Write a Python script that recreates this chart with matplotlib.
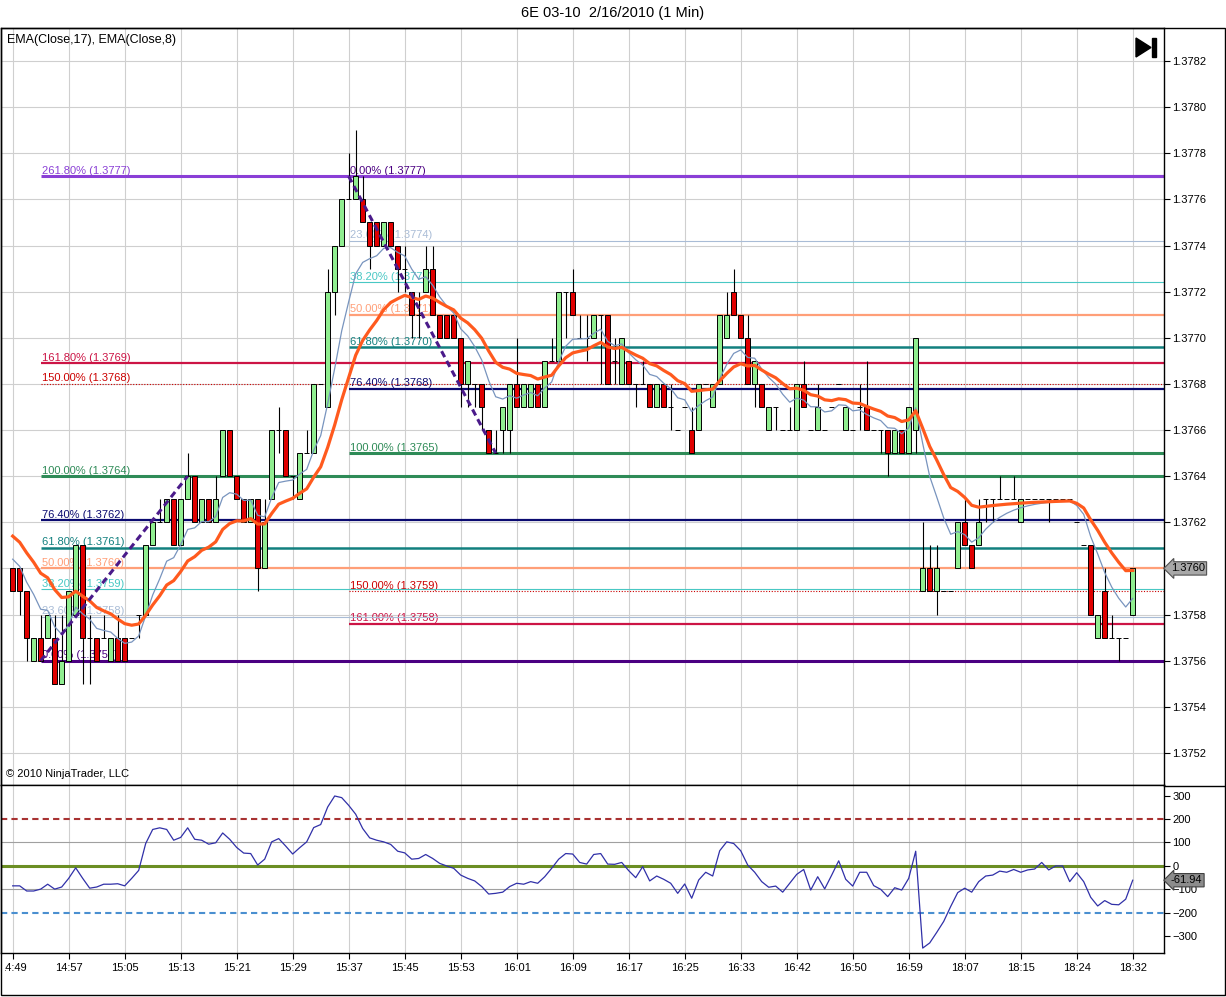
import matplotlib
matplotlib.use("Agg")
import matplotlib.pyplot as plt
from matplotlib.patches import Polygon, Rectangle
from matplotlib.lines import Line2D
from matplotlib.transforms import Bbox, TransformedBbox
import pandas as pd

plt.rcParams['font.family'] = ['Liberation Sans', 'DejaVu Sans']

W, H = 1226, 997

# 1 min bars, 6E 03-10, 16 Feb 2010
opens = [1.3760, 1.3760, 1.3759, 1.3756, 1.3757, 1.3757, 1.3757, 1.3755, 1.3756, 1.3758,
         1.3761, 1.3757, 1.3757, 1.3757, 1.3756, 1.3757, 1.3757, 1.3757, 1.3758, 1.3758,
         1.3761, 1.3762, 1.3762, 1.3763, 1.3761, 1.3763, 1.3764, 1.3762, 1.3763, 1.3762,
         1.3764, 1.3766, 1.3764, 1.3763, 1.3762, 1.3763, 1.3760, 1.3763, 1.3766, 1.3766,
         1.3764, 1.3763, 1.3765, 1.3765, 1.3768, 1.3767, 1.3772, 1.3774, 1.3776, 1.3776,
         1.3776, 1.3775, 1.3775, 1.3774, 1.3775, 1.3774, 1.3773, 1.3772, 1.3771, 1.3772,
         1.3773, 1.3771, 1.3771, 1.3771, 1.3770, 1.3768, 1.3768, 1.3768, 1.3766, 1.3765,
         1.3766, 1.3766, 1.3768, 1.3767, 1.3767, 1.3768, 1.3767, 1.3769, 1.3769, 1.3772,
         1.3772, 1.3770, 1.3770, 1.3770, 1.3771, 1.3771, 1.3769, 1.3768, 1.3769, 1.3768,
         1.3768, 1.3768, 1.3767, 1.3768, 1.3767, 1.3766, 1.3767, 1.3766, 1.3766, 1.3768,
         1.3767, 1.3768, 1.3770, 1.3772, 1.3771, 1.3770, 1.3768, 1.3768, 1.3766, 1.3767,
         1.3766, 1.3766, 1.3766, 1.3768, 1.3766, 1.3766, 1.3766, 1.3767, 1.3768, 1.3766,
         1.3766, 1.3767, 1.3767, 1.3766, 1.3766, 1.3766, 1.3765, 1.3766, 1.3765, 1.3766,
         1.3759, 1.3760, 1.3759, 1.3759, 1.3759, 1.3760, 1.3762, 1.3761, 1.3761, 1.3763,
         1.3763, 1.3763, 1.3763, 1.3763, 1.3762, 1.3763, 1.3763, 1.3763, 1.3763, 1.3763,
         1.3763, 1.3763, 1.3762, 1.3761, 1.3761, 1.3757, 1.3759, 1.3757, 1.3757, 1.3757,
         1.3758]
highs = [1.3760, 1.3760, 1.3759, 1.3757, 1.3758, 1.3758, 1.3758, 1.3758, 1.3759, 1.3761,
         1.3761, 1.3758, 1.3757, 1.3758, 1.3757, 1.3758, 1.3757, 1.3757, 1.3758, 1.3761,
         1.3762, 1.3763, 1.3763, 1.3763, 1.3763, 1.3765, 1.3764, 1.3763, 1.3763, 1.3764,
         1.3766, 1.3766, 1.3764, 1.3763, 1.3763, 1.3763, 1.3763, 1.3766, 1.3767, 1.3766,
         1.3764, 1.3765, 1.3766, 1.3768, 1.3768, 1.3773, 1.3774, 1.3776, 1.3778, 1.3779,
         1.3777, 1.3775, 1.3775, 1.3775, 1.3775, 1.3774, 1.3774, 1.3772, 1.3772, 1.3774,
         1.3774, 1.3771, 1.3771, 1.3771, 1.3770, 1.3769, 1.3768, 1.3768, 1.3766, 1.3766,
         1.3767, 1.3768, 1.3770, 1.3768, 1.3768, 1.3768, 1.3769, 1.3770, 1.3772, 1.3772,
         1.3773, 1.3771, 1.3771, 1.3771, 1.3771, 1.3771, 1.3770, 1.3770, 1.3769, 1.3768,
         1.3769, 1.3768, 1.3768, 1.3768, 1.3768, 1.3766, 1.3767, 1.3767, 1.3768, 1.3768,
         1.3768, 1.3771, 1.3772, 1.3773, 1.3771, 1.3771, 1.3769, 1.3768, 1.3767, 1.3767,
         1.3766, 1.3767, 1.3768, 1.3769, 1.3766, 1.3768, 1.3766, 1.3767, 1.3768, 1.3767,
         1.3766, 1.3768, 1.3769, 1.3766, 1.3766, 1.3766, 1.3766, 1.3766, 1.3767, 1.3770,
         1.3762, 1.3761, 1.3761, 1.3759, 1.3759, 1.3762, 1.3763, 1.3761, 1.3763, 1.3763,
         1.3763, 1.3764, 1.3763, 1.3764, 1.3763, 1.3763, 1.3763, 1.3763, 1.3763, 1.3763,
         1.3763, 1.3763, 1.3762, 1.3761, 1.3761, 1.3758, 1.3760, 1.3758, 1.3757, 1.3757,
         1.3760]
lows = [1.3759, 1.3758, 1.3756, 1.3756, 1.3756, 1.3757, 1.3755, 1.3755, 1.3756, 1.3758,
        1.3755, 1.3755, 1.3756, 1.3757, 1.3756, 1.3756, 1.3756, 1.3757, 1.3757, 1.3758,
        1.3761, 1.3762, 1.3762, 1.3761, 1.3761, 1.3763, 1.3762, 1.3762, 1.3762, 1.3762,
        1.3764, 1.3764, 1.3763, 1.3762, 1.3762, 1.3759, 1.3760, 1.3763, 1.3765, 1.3764,
        1.3763, 1.3763, 1.3765, 1.3765, 1.3768, 1.3767, 1.3771, 1.3774, 1.3776, 1.3776,
        1.3775, 1.3773, 1.3774, 1.3774, 1.3774, 1.3772, 1.3772, 1.3770, 1.3770, 1.3772,
        1.3771, 1.3770, 1.3770, 1.3770, 1.3767, 1.3767, 1.3767, 1.3766, 1.3765, 1.3765,
        1.3765, 1.3765, 1.3767, 1.3767, 1.3767, 1.3767, 1.3767, 1.3769, 1.3769, 1.3770,
        1.3771, 1.3770, 1.3769, 1.3770, 1.3768, 1.3768, 1.3768, 1.3768, 1.3768, 1.3767,
        1.3768, 1.3767, 1.3767, 1.3767, 1.3766, 1.3766, 1.3767, 1.3765, 1.3766, 1.3768,
        1.3767, 1.3768, 1.3770, 1.3771, 1.3770, 1.3768, 1.3767, 1.3767, 1.3766, 1.3766,
        1.3766, 1.3766, 1.3766, 1.3767, 1.3766, 1.3766, 1.3766, 1.3767, 1.3768, 1.3766,
        1.3766, 1.3766, 1.3766, 1.3766, 1.3765, 1.3764, 1.3765, 1.3765, 1.3765, 1.3765,
        1.3759, 1.3759, 1.3758, 1.3759, 1.3759, 1.3760, 1.3761, 1.3760, 1.3761, 1.3762,
        1.3762, 1.3763, 1.3763, 1.3763, 1.3762, 1.3763, 1.3763, 1.3763, 1.3762, 1.3763,
        1.3763, 1.3763, 1.3762, 1.3761, 1.3758, 1.3757, 1.3757, 1.3757, 1.3756, 1.3757,
        1.3758]
closes = [1.3759, 1.3759, 1.3757, 1.3757, 1.3756, 1.3758, 1.3755, 1.3756, 1.3759, 1.3761,
          1.3757, 1.3757, 1.3756, 1.3757, 1.3757, 1.3756, 1.3756, 1.3757, 1.3758, 1.3761,
          1.3762, 1.3762, 1.3763, 1.3761, 1.3763, 1.3764, 1.3762, 1.3763, 1.3762, 1.3763,
          1.3766, 1.3764, 1.3763, 1.3762, 1.3763, 1.3760, 1.3762, 1.3766, 1.3766, 1.3764,
          1.3764, 1.3765, 1.3765, 1.3768, 1.3768, 1.3772, 1.3774, 1.3776, 1.3776, 1.3777,
          1.3775, 1.3774, 1.3774, 1.3775, 1.3774, 1.3773, 1.3773, 1.3771, 1.3771, 1.3773,
          1.3771, 1.3770, 1.3770, 1.3770, 1.3768, 1.3769, 1.3768, 1.3767, 1.3765, 1.3765,
          1.3767, 1.3768, 1.3767, 1.3768, 1.3768, 1.3767, 1.3769, 1.3769, 1.3772, 1.3772,
          1.3771, 1.3770, 1.3770, 1.3771, 1.3771, 1.3768, 1.3769, 1.3770, 1.3768, 1.3768,
          1.3768, 1.3767, 1.3768, 1.3767, 1.3767, 1.3766, 1.3767, 1.3765, 1.3768, 1.3768,
          1.3768, 1.3771, 1.3771, 1.3771, 1.3770, 1.3768, 1.3769, 1.3767, 1.3767, 1.3767,
          1.3766, 1.3766, 1.3768, 1.3767, 1.3766, 1.3767, 1.3766, 1.3767, 1.3768, 1.3767,
          1.3766, 1.3767, 1.3766, 1.3766, 1.3766, 1.3765, 1.3766, 1.3765, 1.3767, 1.3770,
          1.3760, 1.3759, 1.3760, 1.3759, 1.3759, 1.3762, 1.3761, 1.3760, 1.3762, 1.3763,
          1.3763, 1.3763, 1.3763, 1.3763, 1.3763, 1.3763, 1.3763, 1.3763, 1.3763, 1.3763,
          1.3763, 1.3763, 1.3762, 1.3761, 1.3758, 1.3758, 1.3757, 1.3757, 1.3757, 1.3757,
          1.3760]

# lower panel oscillator
cci = [-86, -86, -108, -108, -100, -79, -100, -91, -54, -9,
       -54, -96, -91, -79, -79, -77, -86, -54, -20, 95,
       155, 162, 155, 109, 121, 162, 113, 109, 92, 98,
       140, 113, 78, 54, 52, 3, 28, 102, 116, 84,
       50, 77, 102, 163, 176, 251, 298, 291, 258, 220,
       159, 119, 109, 102, 91, 62, 55, 28, 31, 48,
       31, 10, -1, -11, -40, -54, -65, -89, -121, -118,
       -113, -89, -75, -79, -68, -75, -47, -11, 28, 52,
       50, 14, 7, 48, 52, 7, 6, 14, -21, -51,
       -4, -65, -44, -58, -75, -118, -78, -139, -61, -28,
       -44, 64, 102, 95, 64, 3, -28, -68, -92, -87,
       -113, -75, -37, -16, -104, -47, -99, -40, 21, -58,
       -87, -28, -28, -85, -101, -132, -94, -104, -54, 62,
       -352, -330, -285, -238, -174, -115, -96, -113, -68, -44,
       -40, -23, -28, -16, -28, -18, -14, 14, -18, -1,
       -1, -68, -30, -68, -135, -172, -149, -165, -167, -143,
       -61.94]

time_labels = ["14:49", "14:57", "15:05", "15:13", "15:21", "15:29", "15:37", "15:45",
               "15:53", "16:01", "16:09", "16:17", "16:25", "16:33", "16:42", "16:50",
               "16:59", "18:07", "18:15", "18:24", "18:32"]
price_ticks = [1.3752, 1.3754, 1.3756, 1.3758, 1.3760, 1.3762, 1.3764, 1.3766,
               1.3768, 1.3770, 1.3772, 1.3774, 1.3776, 1.3778, 1.3780, 1.3782]
cci_ticks = [-300, -200, -100, 0, 100, 200, 300]

# EMA values before the first visible bar
ema17_seed = 1.37617
ema8_seed = 1.37608

# fibonacci drawings: (start bar, end bar) anchors and levels
left_anchor = [(4, 1.3756), (25, 1.3764)]
left_names = ["0.00%", "23.60%", "38.20%", "50.00%", "61.80%", "76.40%",
              "100.00%", "150.00%", "161.80%", "261.80%"]
left_prices = [1.3756, 1.37579, 1.37591, 1.3760, 1.37609, 1.37621,
               1.3764, 1.3768, 1.37689, 1.3777]
upper_anchor = [(48, 1.3777), (69, 1.3765)]
upper_names = ["0.00%", "23.60%", "38.20%", "50.00%", "61.80%", "76.40%",
               "100.00%", "150.00%", "161.00%"]
upper_prices = [1.3777, 1.37742, 1.37724, 1.3771, 1.37696, 1.37678,
                1.3765, 1.3759, 1.37576]

FIB_STYLE = {
    "0.00%": ("#4B0082", 2.2, "solid"),
    "23.60%": ("#A9BCD6", 0.8, "solid"),
    "38.20%": ("#48C8C4", 0.8, "solid"),
    "50.00%": ("#FF9F78", 1.6, "solid"),
    "61.80%": ("#12807F", 1.8, "solid"),
    "76.40%": ("#0A0A70", 1.6, "solid"),
    "100.00%": ("#2E8B57", 2.2, "solid"),
    "150.00%": ("#CC0000", 0.8, (0, (1, 1.5))),
    "161.80%": ("#CC1445", 1.6, "solid"),
    "161.00%": ("#CC1445", 1.6, "solid"),
    "261.80%": ("#8A3FD6", 2.2, "solid"),
}


def fx(px):
    return px / W


def fy(py):
    return 1 - py / H


def drawFib(ax, anchor, names, prices):
    start = anchor[0][0]
    for name, price in zip(names, prices):
        color, lw, ls = FIB_STYLE[name]
        ax.hlines(price, start, 200, colors=color, linewidth=lw, linestyles=ls, zorder=1.6)
        ax.annotate(f"{name} ({price:.4f})", xy=(start, price), xytext=(0.6, 0.3),
                    textcoords="offset points", fontsize=8, color=color,
                    va="bottom", ha="left", zorder=1.5)
    ax.plot([anchor[0][0], anchor[1][0]], [anchor[0][1], anchor[1][1]],
            color="#4A1A8A", lw=2.2, ls=(0, (2.2, 1.4)), zorder=6)


fig = plt.figure(figsize=(W / 100, H / 100), dpi=100)
ax = fig.add_axes([fx(1), fy(785), fx(1164) - fx(1), fy(28) - fy(785)])
ax2 = fig.add_axes([fx(1), fy(953), fx(1164) - fx(1), fy(785) - fy(953)], sharex=ax)

xs = list(range(len(closes)))

# fib levels under the candles; the left one goes last so its 261.8% line covers 0.00%
drawFib(ax, upper_anchor, upper_names, upper_prices)
drawFib(ax, left_anchor, left_names, left_prices)

# candles
bottoms = [min(o, c) for o, c in zip(opens, closes)]
heights = [abs(c - o) for o, c in zip(opens, closes)]
colors = []
for o, c in zip(opens, closes):
    if c > o:
        colors.append("#90EE90")
    elif c < o:
        colors.append("#E00000")
    else:
        colors.append("black")
ax.vlines(xs, lows, highs, color="black", lw=0.8, zorder=2.5)
ax.bar(xs, heights, bottom=bottoms, width=0.68, color=colors, edgecolor="black",
       linewidth=0.7, zorder=3)

ema17 = pd.Series([ema17_seed] + closes).ewm(span=17, adjust=False).mean().iloc[1:]
ema8 = pd.Series([ema8_seed] + closes).ewm(span=8, adjust=False).mean().iloc[1:]
ax.plot(xs, ema8, color="#7894BE", lw=0.9, zorder=4)
ax.plot(xs, ema17, color="#FF5A1E", lw=2.3, zorder=4.5)

ax.set_xlim(-1.67, 164.47)
ax.set_ylim(1.375061, 1.378343)
ax.set_yticks(price_ticks)
ax.set_yticklabels([f"{t:.4f}" for t in price_ticks])
ax.yaxis.tick_right()
ax.tick_params(axis="y", direction="out", length=4, width=0.8, labelsize=8, pad=2)
ax.tick_params(axis="x", length=0, labelbottom=False)
ax.grid(True, color="#CFCFCF", lw=0.8)
ax.set_axisbelow(True)

ax.annotate(f"{closes[-1]:.4f}", xy=(1, closes[-1]), xycoords=("axes fraction", "data"),
            xytext=(5, 0), textcoords="offset points", va="center", ha="left", fontsize=8,
            bbox=dict(boxstyle="larrow,pad=0.15", fc="#A8A8A8", ec="#505050", lw=0.8),
            annotation_clip=False, zorder=10)

ax.text(0.005, 0.984, "EMA(Close,17), EMA(Close,8)", transform=ax.transAxes,
        fontsize=9, va="center", ha="left")
ax.text(0.004, 0.014, "\u00a9 2010 NinjaTrader, LLC", transform=ax.transAxes,
        fontsize=8, va="center", ha="left")

# lower panel
ax2.axhline(100, color="#A0A0A0", lw=0.8, zorder=1)
ax2.axhline(-100, color="#A0A0A0", lw=0.8, zorder=1)
ax2.axhline(200, color="#A83232", lw=1.5, ls=(0, (3, 2)), zorder=2)
ax2.axhline(0, color="#6B8E23", lw=2.2, zorder=2)
ax2.axhline(-200, color="#4A8FD0", lw=1.5, ls=(0, (3, 2)), zorder=2)
ax2.plot(xs, cci, color="#3030A8", lw=0.9, zorder=3)
ax2.set_ylim(-373, 345)
ax2.set_yticks(cci_ticks)
ax2.yaxis.tick_right()
ax2.tick_params(axis="y", direction="out", length=4, width=0.8, labelsize=8, pad=2)
ax2.set_xticks(range(0, 161, 8))
ax2.set_xticklabels(time_labels)
ax2.tick_params(axis="x", direction="out", length=4, width=0.8, labelsize=8, pad=3)
ax2.grid(True, axis="x", color="#CFCFCF", lw=0.8)
ax2.set_axisbelow(True)

ax2.annotate(f"{cci[-1]:.2f}", xy=(1, cci[-1]), xycoords=("axes fraction", "data"),
             xytext=(5, 0), textcoords="offset points", va="center", ha="left", fontsize=8,
             bbox=dict(boxstyle="larrow,pad=0.15", fc="#8C8C8C", ec="#404040", lw=0.8),
             annotation_clip=False, zorder=10)

for a in (ax, ax2):
    for s in a.spines.values():
        s.set_color("black")
        s.set_linewidth(1)

# frame, title and the scroll icon
fig.add_artist(Rectangle((fx(0.5), fy(995)), fx(1224.5) - fx(0.5), fy(28) - fy(995),
                         transform=fig.transFigure, fill=False, ec="black", lw=1))
fig.add_artist(Line2D([fx(1164), fx(1225)], [fy(785.5), fy(785.5)],
                      transform=fig.transFigure, color="black", lw=1))
fig.text(fx(613), fy(13), "6E 03-10  2/16/2010 (1 Min)", ha="center", va="center", fontsize=10.5)
fig.add_artist(Polygon([[fx(1136), fy(38)], [fx(1136), fy(57)], [fx(1151), fy(47.5)]],
                       closed=True, transform=fig.transFigure, fc="black", ec="black"))
fig.add_artist(Rectangle((fx(1152), fy(57)), fx(4), fy(38) - fy(57),
                         transform=fig.transFigure, fc="black", ec="black"))

# the first time label is cut by the left border, as on the platform
fig.canvas.draw()
first = ax2.get_xticklabels()[0]
first.set_clip_box(TransformedBbox(Bbox([[fx(5), 0], [1, 1]]), fig.transFigure))
first.set_clip_on(True)

fig.savefig("out.png", dpi=100)
